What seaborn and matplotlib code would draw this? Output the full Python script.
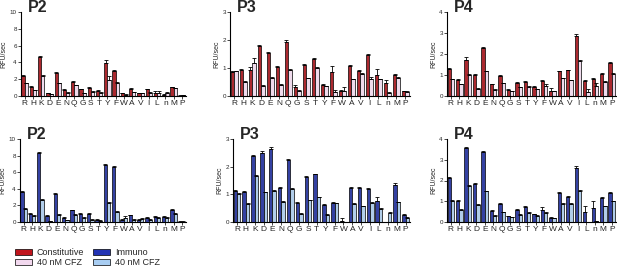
import numpy as np
import pandas as pd
import matplotlib
matplotlib.use("Agg")
import matplotlib.pyplot as plt
from matplotlib.patches import Patch
import seaborn as sns

sns.set_theme(style="ticks")
plt.rcParams['font.family'] = ['Liberation Sans', 'DejaVu Sans']

residues = ["R", "H", "K", "D", "E", "N", "Q", "G", "S", "T", "Y", "F",
            "W", "A", "V", "I", "L", "n", "M", "P"]

# constitutive proteasome, P2/P3/P4 (untreated, 40 nM CFZ)
c_p2 = [2.4, 1.1, 4.7, 0.35, 2.7, 0.75, 1.7, 0.8, 1.0, 0.65, 3.9, 3.0, 0.3, 0.85, 0.35, 0.8, 0.35, 0.15, 1.05, 0.05]
c_p2_cfz = [1.5, 0.7, 2.4, 0.2, 1.5, 0.4, 1.3, 0.35, 0.5, 0.4, 1.9, 1.6, 0.15, 0.45, 0.3, 0.4, 0.35, 0.3, 0.95, 0.1]
c_p2_err = [0.1, 0.1, 0.1, 0.05, 0.1, 0.05, 0.1, 0.05, 0.05, 0.05, 0.4, 0.1, 0.05, 0.05, 0.05, 0.05, 0.3, 0.1, 0.05, 0.05]
c_p2_cfz_err = [0.05, 0.05, 0.1, 0.05, 0.05, 0.05, 0.05, 0.05, 0.05, 0.05, 0.5, 0.05, 0.05, 0.05, 0.05, 0.05, 0.2, 0.15, 0.05, 0.05]

c_p3 = [0.85, 0.93, 0.93, 1.78, 1.55, 1.03, 1.93, 0.33, 1.1, 1.33, 0.4, 0.87, 0.18, 1.07, 0.9, 1.45, 0.75, 0.45, 0.75, 0.17]
c_p3_cfz = [0.88, 0.5, 1.17, 0.37, 0.66, 0.4, 0.93, 0.18, 0.63, 1.0, 0.35, 0.15, 0.17, 0.6, 0.8, 0.6, 0.6, 0.1, 0.65, 0.15]
c_p3_err = [0.03, 0.02, 0.1, 0.03, 0.02, 0.03, 0.07, 0.05, 0.03, 0.03, 0.03, 0.2, 0.03, 0.04, 0.03, 0.05, 0.2, 0.12, 0.03, 0.02]
c_p3_cfz_err = [0.03, 0.02, 0.18, 0.03, 0.02, 0.02, 0.03, 0.02, 0.02, 0.02, 0.02, 0.08, 0.14, 0.02, 0.02, 0.08, 0.02, 0.05, 0.02, 0.02]

c_p4 = [1.27, 0.78, 1.72, 1.0, 2.3, 0.55, 0.95, 0.3, 0.63, 0.67, 0.42, 0.7, 0.25, 1.17, 1.22, 2.85, 0.7, 0.8, 1.05, 1.58]
c_p4_cfz = [0.8, 0.55, 1.0, 0.35, 1.17, 0.3, 0.6, 0.22, 0.42, 0.45, 0.32, 0.5, 0.23, 0.85, 0.75, 1.67, 0.2, 0.47, 0.67, 1.07]
c_p4_err = [0.04, 0.03, 0.12, 0.03, 0.04, 0.04, 0.03, 0.03, 0.03, 0.05, 0.04, 0.08, 0.15, 0.04, 0.03, 0.08, 0.04, 0.05, 0.03, 0.04]
c_p4_cfz_err = [0.03, 0.03, 0.05, 0.03, 0.03, 0.03, 0.03, 0.02, 0.03, 0.03, 0.03, 0.05, 0.03, 0.03, 0.03, 0.05, 0.15, 0.15, 0.03, 0.03]

# immunoproteasome
i_p2 = [3.6, 1.0, 8.3, 0.7, 3.4, 0.5, 1.4, 0.95, 0.95, 0.3, 6.9, 6.6, 0.3, 0.8, 0.3, 0.5, 0.6, 0.6, 1.45, 0.05]
i_p2_cfz = [1.6, 0.7, 2.7, 0.1, 0.9, 0.2, 0.85, 0.45, 0.3, 0.15, 2.3, 1.25, 0.5, 0.3, 0.35, 0.3, 0.5, 0.45, 1.0, 0.05]
i_p2_err = [0.1, 0.1, 0.1, 0.1, 0.1, 0.1, 0.1, 0.1, 0.1, 0.1, 0.1, 0.1, 0.1, 0.1, 0.1, 0.1, 0.15, 0.15, 0.1, 0.05]
i_p2_cfz_err = [0.1, 0.1, 0.1, 0.05, 0.1, 0.05, 0.1, 0.1, 0.05, 0.05, 0.1, 0.1, 0.2, 0.05, 0.1, 0.05, 0.1, 0.1, 0.1, 0.05]

i_p3 = [1.13, 1.1, 2.37, 2.5, 2.65, 1.23, 2.25, 0.68, 1.63, 1.72, 0.63, 0.7, 0.05, 1.22, 1.22, 1.18, 0.75, 0.0, 1.33, 0.27]
i_p3_cfz = [1.03, 0.65, 1.67, 1.08, 1.13, 0.73, 1.2, 0.3, 0.78, 0.9, 0.27, 0.68, 0.0, 0.65, 0.57, 0.7, 0.47, 0.33, 0.72, 0.15]
i_p3_err = [0.03, 0.03, 0.04, 0.05, 0.05, 0.03, 0.04, 0.03, 0.03, 0.03, 0.03, 0.03, 0.08, 0.03, 0.03, 0.04, 0.15, 0.0, 0.07, 0.02]
i_p3_cfz_err = [0.02, 0.02, 0.03, 0.02, 0.02, 0.02, 0.03, 0.02, 0.02, 0.02, 0.02, 0.02, 0.0, 0.02, 0.02, 0.02, 0.02, 0.02, 0.02, 0.02]

i_p4 = [2.13, 1.0, 3.55, 1.83, 3.37, 0.53, 0.88, 0.27, 0.6, 0.7, 0.37, 0.6, 0.2, 1.38, 1.2, 2.62, 0.48, 0.67, 1.17, 1.4]
i_p4_cfz = [1.03, 0.6, 1.75, 0.83, 1.47, 0.3, 0.47, 0.22, 0.35, 0.45, 0.3, 0.45, 0.18, 0.87, 0.87, 1.47, 0.0, 0.05, 0.75, 1.0]
i_p4_err = [0.05, 0.04, 0.05, 0.04, 0.05, 0.04, 0.04, 0.03, 0.05, 0.05, 0.03, 0.12, 0.03, 0.05, 0.04, 0.1, 0.3, 0.35, 0.04, 0.04]
i_p4_cfz_err = [0.03, 0.03, 0.04, 0.04, 0.04, 0.03, 0.03, 0.02, 0.03, 0.03, 0.02, 0.03, 0.02, 0.03, 0.03, 0.05, 0.0, 0.0, 0.03, 0.03]

red, pink = "#c0141c", "#f2d8ee"
blue, lightblue = "#2233b4", "#a8cdf2"

panels = [
    ("P2", c_p2, c_p2_cfz, c_p2_err, c_p2_cfz_err, (red, pink), 10, [0, 2, 4, 6, 8, 10], [21, 12, 186, 96]),
    ("P3", c_p3, c_p3_cfz, c_p3_err, c_p3_cfz_err, (red, pink), 3, [0, 1, 2, 3], [230, 12, 410, 96]),
    ("P4", c_p4, c_p4_cfz, c_p4_err, c_p4_cfz_err, (red, pink), 4, [0, 1, 2, 3, 4], [447, 12, 616, 96]),
    ("P2", i_p2, i_p2_cfz, i_p2_err, i_p2_cfz_err, (blue, lightblue), 10, [0, 2, 4, 6, 8, 10], [20, 139, 186, 222]),
    ("P3", i_p3, i_p3_cfz, i_p3_err, i_p3_cfz_err, (blue, lightblue), 3, [0, 1, 2, 3], [233, 139, 410, 222]),
    ("P4", i_p4, i_p4_cfz, i_p4_err, i_p4_cfz_err, (blue, lightblue), 4, [0, 1, 2, 3, 4], [447, 139, 616, 222]),
]

W, H = 617, 266
fig = plt.figure(figsize=(W / 100, H / 100), dpi=100)

for title, base, cfz, err, cfz_err, cols, ymax, yt, box in panels:
    x0, y0, x1, y1 = box
    ax = fig.add_axes([x0 / W, 1 - y1 / H, (x1 - x0) / W, (y1 - y0) / H])
    df = pd.DataFrame({
        "residue": residues * 2,
        "rfu": base + cfz,
        "cond": ["ctrl"] * 20 + ["cfz"] * 20,
    })
    sns.barplot(data=df, x="residue", y="rfu", hue="cond", palette=list(cols),
                errorbar=None, width=0.78, edgecolor="black", linewidth=0.5,
                legend=False, ax=ax)
    bars = ax.patches
    xs = [b.get_x() + b.get_width() / 2 for b in bars]
    ys = [b.get_height() for b in bars]
    ax.errorbar(xs, ys, yerr=[np.zeros(40), err + cfz_err], fmt="none",
                ecolor="black", elinewidth=0.6, capsize=1.2, capthick=0.6)
    ax.set_xlim(-0.45, 19.5)
    ax.set_ylim(0, ymax)
    ax.set_yticks(yt)
    ax.tick_params(axis="y", labelsize=4.5, length=2, width=0.6, pad=1)
    ax.tick_params(axis="x", labelsize=6, length=2, width=0.6, pad=1)
    ax.set_xlabel("")
    ax.set_ylabel("RFU/sec", fontsize=5, labelpad=1.5)
    sns.despine(ax=ax)
    for s in ["left", "bottom"]:
        ax.spines[s].set_linewidth(0.8)
        ax.spines[s].set_color("black")
    ax.text(0.04, 1.0, title, transform=ax.transAxes, fontsize=11.5,
            fontweight="bold", ha="left", va="baseline")

handles = [
    Patch(facecolor=red, edgecolor="black", linewidth=0.5, label="Constitutive"),
    Patch(facecolor=pink, edgecolor="black", linewidth=0.5, label="40 nM CFZ"),
    Patch(facecolor=blue, edgecolor="black", linewidth=0.5, label="Immuno"),
    Patch(facecolor=lightblue, edgecolor="black", linewidth=0.5, label="40 nM CFZ"),
]
fig.legend(handles=handles, ncol=2, loc="lower left", bbox_to_anchor=(14 / W, -0.008),
           frameon=False, fontsize=6.5, handlelength=1.9, handleheight=0.7,
           columnspacing=1.0, labelspacing=0.15, handletextpad=0.5, borderaxespad=0.0,
           borderpad=0.1)

fig.savefig("out.png", dpi=100)
